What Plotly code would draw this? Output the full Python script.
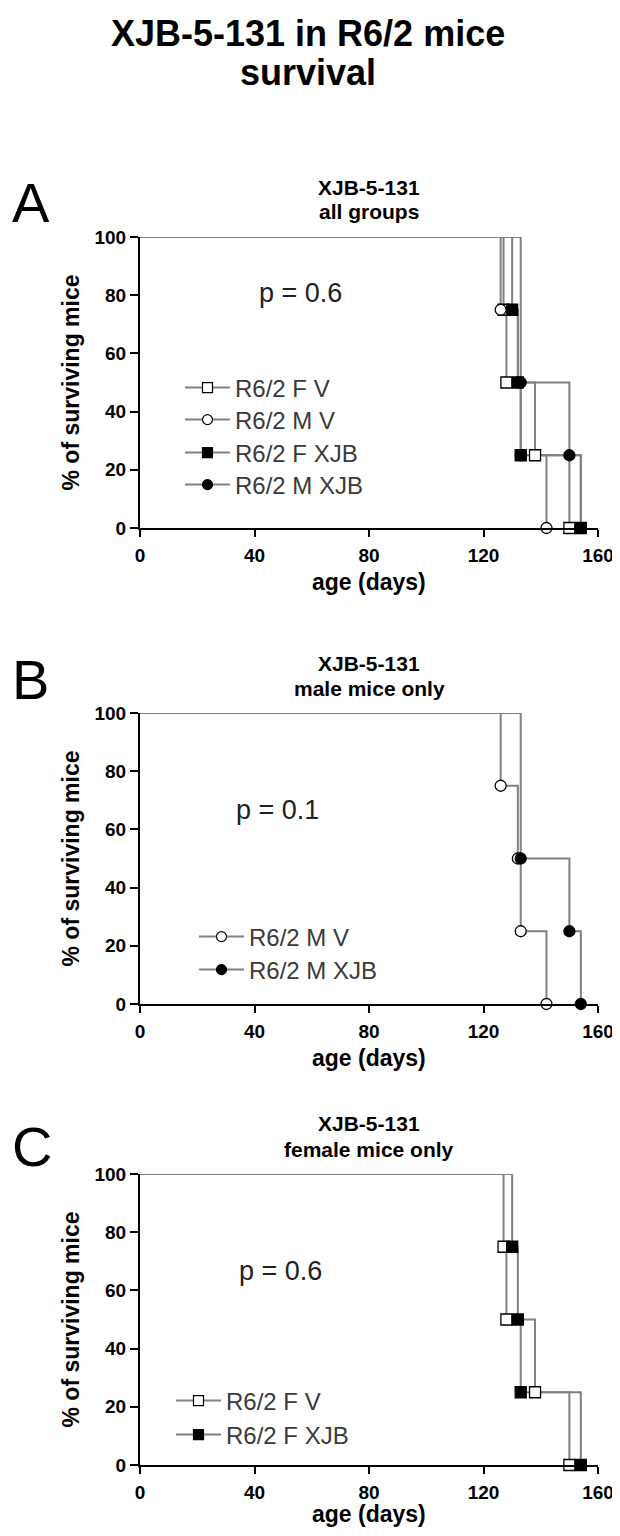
import plotly.graph_objects as go

# ---- data (age in days at death, n = 4 mice per group) ----
group_names = ["R6/2 F V", "R6/2 M V", "R6/2 F XJB", "R6/2 M XJB"]
days_f_v = [127, 128, 138, 150]
days_m_v = [126, 132, 133, 142]
days_f_xjb = [130, 132, 133, 154]
days_m_xjb = [133, 133, 150, 154]

panel_letters = ["A", "B", "C"]
panel_title_line1 = ["XJB-5-131", "XJB-5-131", "XJB-5-131"]
panel_title_line2 = ["all groups", "male mice only", "female mice only"]
panel_pvalues = ["p = 0.6", "p = 0.1", "p = 0.6"]
panel_groups = [[0, 1, 2, 3], [1, 3], [0, 2]]

x_ticks = [0, 40, 80, 120, 160]
y_ticks = [0, 20, 40, 60, 80, 100]

group_days = [days_f_v, days_m_v, days_f_xjb, days_m_xjb]
group_symbols = ["square", "circle", "square", "circle"]
group_fills = ["white", "white", "black", "black"]

# The page body has an 8px margin; the figure is sized so that it fits the
# 620x1536 window without scrollbars. Positions below are in window pixels.
PAGE_MARGIN = 8
W, H = 620 - PAGE_MARGIN, 1536 - 2 * PAGE_MARGIN
FONT = "Liberation Sans, Arial, sans-serif"
LINE_COLOR = "#808080"


def km_curve(days):
    n = len(days)
    times = sorted(set(days))
    surv = []
    dead = 0
    for t in times:
        dead += days.count(t)
        surv.append(100.0 * (n - dead) / n)
    return times, surv


def py(pix):
    return 1 - (pix - PAGE_MARGIN) / H


def px(pix):
    return (pix - PAGE_MARGIN) / W


x_dom = [px(140), px(598)]
# (top pixel, bottom pixel) of each plot area
y_pix = [(237, 528), (713, 1004), (1174, 1465)]
# text positions (window pixels)
letter_y = [203, 679, 1146]
title_y = [(187, 212), (663, 688), (1123, 1149)]
xtitle_y = [582, 1058, 1514]
pval_xy = [(300, 293), (277, 810), (280, 1271)]
legend_icon_x = [205, 219, 196]
legend_item_y = [[388, 420, 453, 485], [937, 970], [1401, 1435]]

fig = go.Figure()
annotations = []
layout_axes = {}
legend_layout = {}
leg_count = 0

for p in range(3):
    sfx = "" if p == 0 else str(p + 1)
    xa, ya = "x" + sfx, "y" + sfx
    for g in panel_groups[p]:
        times, surv = km_curve(group_days[g])
        fig.add_trace(go.Scatter(
            x=[0] + times, y=[100.0] + surv, mode="lines",
            line=dict(color=LINE_COLOR, width=2, shape="hv"),
            xaxis=xa, yaxis=ya, showlegend=False, hoverinfo="skip",
            cliponaxis=False))
    for g in panel_groups[p]:
        times, surv = km_curve(group_days[g])
        fig.add_trace(go.Scatter(
            x=times, y=surv, mode="markers",
            marker=dict(symbol=group_symbols[g], size=11, color=group_fills[g],
                        line=dict(color="black", width=1.3)),
            xaxis=xa, yaxis=ya, showlegend=False, cliponaxis=False))
    # legend entries, one small legend per entry
    for k, g in enumerate(panel_groups[p]):
        leg_count += 1
        key = "legend" if leg_count == 1 else "legend" + str(leg_count)
        fig.add_trace(go.Scatter(
            x=[None], y=[None], mode="lines+markers", name=group_names[g],
            line=dict(color=LINE_COLOR, width=2),
            marker=dict(symbol=group_symbols[g], size=10, color=group_fills[g],
                        line=dict(color="black", width=1.2)),
            xaxis=xa, yaxis=ya, legend=key, showlegend=True))
        legend_layout[key] = dict(
            x=px(legend_icon_x[p] - 25), y=py(legend_item_y[p][k]),
            xanchor="left", yanchor="middle",
            bgcolor="rgba(0,0,0,0)", borderwidth=0, itemwidth=45,
            font=dict(family=FONT, size=24, color="#3a3a3a"))

    top, bot = y_pix[p]
    layout_axes["xaxis" + sfx] = dict(
        domain=x_dom, anchor=ya, range=[0, 160], tickvals=x_ticks,
        showgrid=False, zeroline=False, showline=True, linecolor="black", linewidth=2,
        ticks="outside", ticklen=7, tickwidth=2, tickcolor="black", automargin=False,
        ticklabelstandoff=2, ticklabeloverflow="allow",
        tickfont=dict(family=FONT, size=19, color="black", weight="bold"))
    layout_axes["yaxis" + sfx] = dict(
        domain=[py(bot), py(top)], anchor=xa, range=[0, 100], tickvals=y_ticks,
        showgrid=False, zeroline=False, showline=True, linecolor="black", linewidth=2,
        ticks="outside", ticklen=8, tickwidth=2, tickcolor="black", automargin=False,
        ticklabeloverflow="allow",
        tickfont=dict(family=FONT, size=19, color="black", weight="bold"))

    # axis titles
    annotations.append(dict(text="age (days)", xref="paper", yref="paper",
                            x=px(369), y=py(xtitle_y[p]), xanchor="center", yanchor="middle",
                            showarrow=False, font=dict(family=FONT, size=23, color="black", weight="bold")))
    annotations.append(dict(text="% of surviving mice", xref="paper", yref="paper",
                            x=px(70), y=py((top + bot) / 2), xanchor="center", yanchor="middle",
                            textangle=-90, showarrow=False,
                            font=dict(family=FONT, size=23, color="black", weight="bold")))
    # panel letter
    annotations.append(dict(text=panel_letters[p], xref="paper", yref="paper",
                            x=px(10), y=py(letter_y[p]), xanchor="left", yanchor="middle",
                            showarrow=False, font=dict(family=FONT, size=56, color="black")))
    # panel title (two lines)
    for line_text, ly in zip([panel_title_line1[p], panel_title_line2[p]], title_y[p]):
        annotations.append(dict(text=line_text, xref="paper", yref="paper",
                                x=px(369), y=py(ly), xanchor="center", yanchor="middle",
                                showarrow=False, font=dict(family=FONT, size=21, color="black", weight="bold")))
    # p value
    annotations.append(dict(text=panel_pvalues[p], xref="paper", yref="paper",
                            x=px(pval_xy[p][0]), y=py(pval_xy[p][1]), xanchor="center", yanchor="middle",
                            showarrow=False, font=dict(family=FONT, size=27, color="#222")))

for line_text, ly in zip(["XJB-5-131 in R6/2 mice", "survival"], [33, 73]):
    annotations.append(dict(text=line_text, xref="paper", yref="paper",
                            x=px(308), y=py(ly), xanchor="center", yanchor="middle", showarrow=False,
                            font=dict(family=FONT, size=36, color="black", weight="bold")))

fig.update_layout(
    width=W, height=H, margin=dict(l=0, r=0, t=0, b=0, autoexpand=False),
    paper_bgcolor="white", plot_bgcolor="white",
    annotations=annotations, **layout_axes, **legend_layout)

fig.write_html("out.html")
